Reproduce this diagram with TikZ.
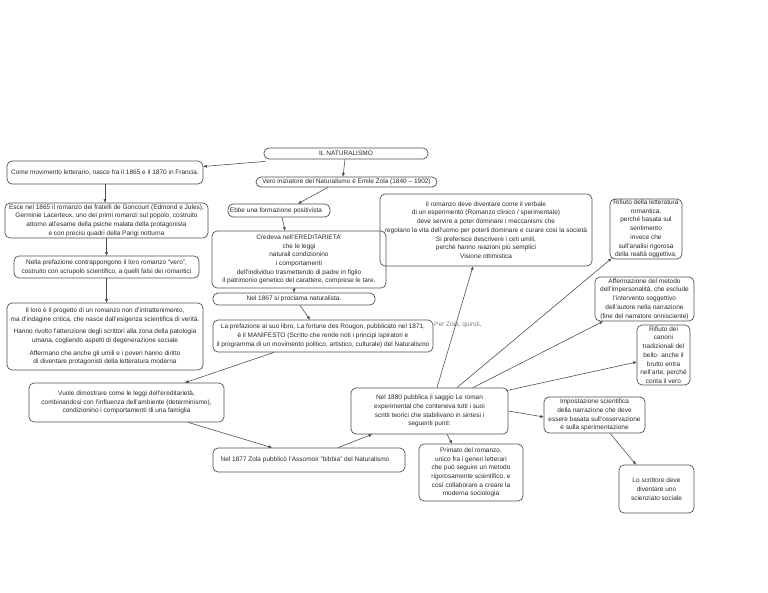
\documentclass[tikz,border=0pt]{standalone}
\usepackage{fontspec}
\setmainfont{Liberation Sans}
\usetikzlibrary{arrows.meta}
\definecolor{boxline}{HTML}{505050}
\definecolor{txt}{HTML}{2A2A2A}
\definecolor{conn}{HTML}{505050}
\begin{document}
\begin{tikzpicture}[x=1pt,y=-1pt,
  box/.style={draw=boxline,line width=0.7pt,rounded corners=5pt,inner sep=0.5pt,
    align=center,text=txt,font=\fontsize{6.5}{8.7}\selectfont},
  conn/.style={draw=conn,line width=0.6pt,-{Triangle[length=3.5pt,width=2.8pt]}}]
\useasboundingbox (0,0) rectangle (768,593);
% boxes: (left,top)-(right,bottom)
\newcommand{\bx}[6]{\node[box,minimum width={#4-#2},minimum height={#5-#3}] (#1) at ({(#2+#4)/2},{(#3+#5)/2}) {#6};}
\bx{nat}{264}{148}{428}{159}{IL NATURALISMO}
\bx{come}{7}{161}{203}{184}{Come movimento letterario, nasce fra il 1865 e il 1870 in Francia.}
\bx{vero}{256}{177}{437}{187}{Vero iniziatore del Naturalismo è Emile Zola (1840 – 1902)}
\bx{esce}{5}{203}{208}{238}{Esce nel 1865 il romanzo dei fratelli de Goncourt (Edmond e Jules),\\ Germinie Lacerteux, uno dei primi romanzi sul popolo, costruito\\ attorno all'esame della psiche malata della protagonista\\ e con precisi quadri della Parigi notturna}
\bx{ebbe}{228}{204}{330}{217}{Ebbe una formazione positivista\hspace{6pt}}
\bx{cred}{212}{231}{386}{288}{Credeva nell'EREDITARIETA'\\ che le leggi\\ naturali condizionino\\ i comportamenti\\ dell'individuo trasmettendo di padre in figlio\\ il patrimonio genetico del carattere, comprese le tare.}
\bx{big}{380}{194}{592}{266}{il romanzo deve diventare come il verbale\\ di un esperimento (Romanzo clinico / sperimentale)\\ deve servire a poter dominare i meccanismi che\\ regolano la vita dell'uomo per poterli dominare e curare così la società\\ Si preferisce descrivere i ceti umili,\\ perché hanno reazioni più semplici\\ Visione ottimistica}
\bx{riflett}{610}{199}{682}{259}{Rifiuto della letteratura\\ romantica,\\ perché basata sul\\ sentimento\\ invece che\\ sull'analisi rigorosa\\ della realtà oggettiva;}
\bx{aff}{595}{277}{694}{321}{Affermazione del metodo\\ dell'impersonalità, che esclude\\ l'intervento soggettivo\\ dell'autore nella narrazione\\ (fine del narratore onnisciente)}
\bx{rifcan}{637}{325}{690}{385}{Rifiuto dei\\ canoni\\ tradizionali del\\ bello: anche il\\ brutto entra\\ nell'arte, perché\\ conta il vero}
\bx{nella}{14}{256}{199}{278}{Nella prefazione contrappongono il loro romanzo “vero”,\\ costruito con scrupolo scientifico, a quelli falsi dei romantici}
\bx{iloro}{7}{303}{203}{370}{Il loro è il progetto di un romanzo non d'intrattenimento,\\ ma d'indagine critica, che nasce dall'esigenza scientifica di verità.\\[4pt] Hanno rivolto l'attenzione degli scrittori alla zona della patologia\\ umana, cogliendo aspetti di degenerazione sociale\\[4pt] Affermano che anche gli umili e i poveri hanno diritto\\ di diventare protagonisti della letteratura moderna}
\bx{n1867}{213}{293}{375}{305}{Nel 1867 si proclama naturalista.}
\bx{pref}{213}{320}{433}{352}{La prefazione al suo libro, La fortune des Rougon, pubblicato nel 1871,\\ è il MANIFESTO (Scritto che rende noti i principi ispiratori e\\ il programma di un movimento politico, artistico, culturale) del Naturalismo}
\bx{vuole}{29}{383}{224}{422}{Vuole dimostrare come le leggi dell'ereditarietà,\\ combinandosi con l'influenza dell'ambiente (determinismo),\\ condizionino i comportamenti di una famiglia}
\bx{n1877}{213}{448}{405}{472}{Nel 1877 Zola pubblicò l'Assomoir "bibbia" del Naturalismo\hspace{8pt}}
\bx{n1880}{351}{388}{508}{434}{Nel 1880 pubblica il saggio Le roman\\ experimental che conteneva tutti i suoi\\ scritti teorici che stabilivano in sintesi i\\ seguenti punti:}
\bx{primato}{419}{444}{523}{501}{Primato del romanzo,\\ unico fra i generi letterari\\ che può seguire un metodo\\ rigorosamente scientifico, e\\ così collaborare a creare la\\ moderna sociologia}
\bx{impost}{544}{397}{645}{433}{Impostazione scientifica\\ della narrazione che deve\\ essere basata sull'osservazione\\ e sulla sperimentazione}
\bx{scrit}{619}{465}{694}{513}{Lo scrittore deve\\ diventare uno\\ scienziato sociale}
\node[text=gray,font=\fontsize{6.5}{8.7}\selectfont,anchor=west,inner sep=0pt] (perzola) at (434,325) {Per Zola, quindi,};
% connectors
\draw[conn] ([xshift=2pt,yshift=-2pt]nat.south west) -- ([yshift=6pt]come.east);
\draw[conn] ([xshift=-1pt]nat.south) -- ([xshift=-3.5pt]vero.north);
\draw[conn] ([xshift=-18.5pt]vero.south) -- ([xshift=19pt]ebbe.north);
\draw[conn] ([xshift=3pt]ebbe.south) -- ([xshift=-14pt]cred.north);
\draw[conn] ([xshift=-5pt]cred.south) -- (n1867.north);
\draw[conn] ([xshift=6pt]n1867.south) -- ([xshift=-13pt]pref.north);
\draw[conn] ([xshift=-49pt]pref.south) -- ([xshift=58.5pt]vuole.north);
\draw[conn] ([xshift=61.5pt]vuole.south) -- ([xshift=-37pt]n1877.north);
\draw[conn] ([xshift=29pt]n1877.north) -- ([xshift=-57.5pt]n1880.south);
\draw[conn] ([xshift=7.5pt]n1880.north) -- ([xshift=-13pt]big.south);
\draw[conn] ([xshift=27.5pt]n1880.north) -- ([xshift=2pt,yshift=1pt]riflett.south west);
\draw[conn] ([xshift=43.5pt]n1880.north) -- ([xshift=-41.5pt]aff.south);
\draw[conn] ([xshift=-2pt,yshift=-3pt]n1880.north east) -- ([yshift=-7pt]rifcan.west);
\draw[conn] (n1880.east) -- ([yshift=-2pt]impost.west);
\draw[conn] ([xshift=17.5pt]n1880.south) -- ([xshift=-19pt]primato.north);
\draw[conn] ([xshift=15.5pt]impost.south) -- ([xshift=-20.5pt]scrit.north);
\draw[conn] (come.south) -- (come.south |- esce.north);
\draw[conn] (esce.south) -- (esce.south |- nella.north);
\draw[conn] (nella.south) -- (nella.south |- iloro.north);
\end{tikzpicture}
\end{document}
